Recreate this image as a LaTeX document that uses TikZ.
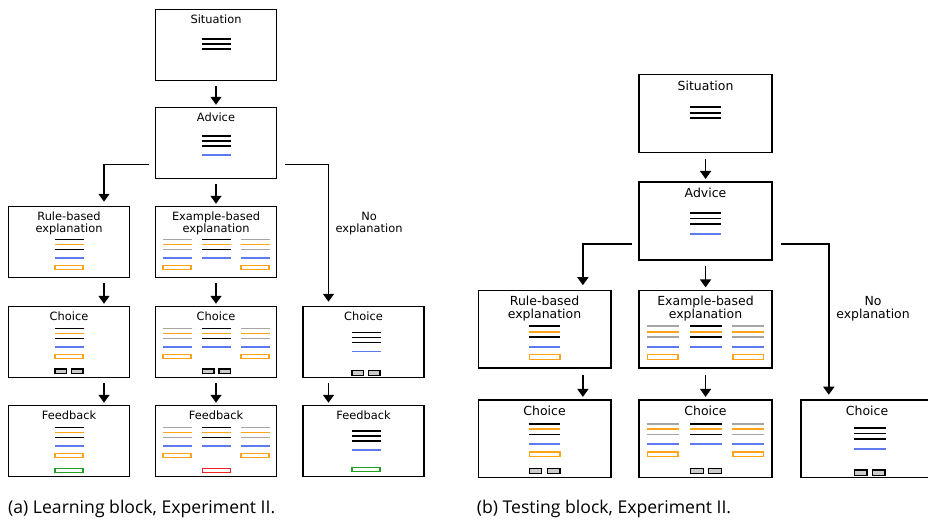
\documentclass[tikz,border=0pt]{standalone}
\usepackage{fontspec}
\setmainfont{DejaVu Sans}
\newfontfamily\capfont{Open Sans}
\usetikzlibrary{arrows.meta}
\definecolor{cOrange}{HTML}{FFA31A}
\definecolor{cGray}{HTML}{A5A5A5}
\definecolor{cBlue}{HTML}{5B7BEF}
\definecolor{cGreen}{HTML}{22A022}
\definecolor{cRed}{HTML}{EE2222}
\definecolor{cBtn}{HTML}{CBCBCB}
\tikzset{
  box/.style={draw, line width=1.6pt, minimum width=121pt, minimum height=71pt, inner sep=0pt, anchor=north},
  ttl/.style={font=\fontsize{11.4}{11.8}\selectfont, align=center, inner sep=0pt, anchor=north},
  arr/.style={line width=1.6pt, -{Triangle[width=11pt,length=8pt]}},
  bar/.style={line width=1.6pt},
  orect/.style={line width=1.4pt},
  btn/.style={line width=1.3pt, fill=cBtn},
  captxt/.style={font=\capfont\fontsize{17.6}{20}\selectfont, anchor=base west, inner sep=0pt},
}
\newcommand\mybar[3]{\draw[bar,#1] ({#2-14.5},{#3}) -- ({#2+14.5},{#3});}
\newcommand\myrect[3]{\draw[orect,#1] ({#2-14},{#3}) rectangle ({#2+14},{#3+4.2});}
\newcommand\mybtns[2]{\draw[btn] ({#1-14},{#2}) rectangle ({#1-2.5},{#2+4.8}) ({#1+2.5},{#2}) rectangle ({#1+14},{#2+4.8});}
\newcommand\mycol[4]{\mybar{#1}{#2}{#3}\mybar{cOrange}{#2}{#3+5}\mybar{#1}{#2}{#3+10}\mybar{cBlue}{#2}{#3+18.7}\ifnum#4=1 \myrect{cOrange}{#2}{#3+25.9}\fi}
\newcommand\myrule[2]{\mycol{black}{#1}{#2}{1}}
\newcommand\myex[2]{\mycol{cGray}{#1-39}{#2}{1}\mycol{black}{#1+0.5}{#2}{0}\mycol{cGray}{#1+39}{#2}{1}}
\newcommand\myplain[3]{\mybar{black}{#1}{#2}\mybar{black}{#1}{#2+5}\mybar{black}{#1}{#2+10}\ifnum#3=1 \mybar{cBlue}{#1}{#2+19}\fi}
\newcommand\drawflow[2]{%
  % Situation
  \node[box] (#1sit) at (216,8.75) {};
  \node[ttl] (#1sitt) at (216,14.8) {Situation};
  \myplain{216}{39.3}{0}
  % Advice
  \node[box] (#1adv) at (216,106.75) {};
  \node[ttl] (#1advt) at (216,112.8) {Advice};
  \myplain{216}{136}{1}
  % explanation row
  \node[box] (#1rul) at (69,205.75) {};
  \node[ttl] (#1rult) at (69,211.6) {Rule-based\\explanation};
  \myrule{69}{239.3}
  \node[box] (#1exa) at (216,205.75) {};
  \node[ttl] (#1exat) at (216,211.6) {Example-based\\explanation};
  \myex{216}{239.3}
  \node[ttl] (#1noexp) at (369,212) {No\\explanation};
  % choice row
  \node[box] (#1rch) at (69,305.75) {};
  \node[ttl] (#1rcht) at (69,311.8) {Choice};
  \myrule{69}{328.3}
  \mybtns{69}{369}
  \node[box] (#1ech) at (216,305.75) {};
  \node[ttl] (#1echt) at (216,311.8) {Choice};
  \myex{216}{328.3}
  \mybtns{216.5}{369}
  \node[box] (#1nch) at (363.5,305.75) {};
  \node[ttl] (#1ncht) at (363.5,311.8) {Choice};
  \myplain{366}{332.3}{1}
  \mybtns{366}{370.6}
  % connectors
  \draw[arr] ([yshift=-5pt]#1sit.south) -- ([yshift=2pt]#1adv.north);
  \draw[arr] ([xshift=-6pt,yshift=15pt]#1adv.south west) -| ([xshift=35pt,yshift=4pt]#1rul.north);
  \draw[arr] ([yshift=-5pt]#1adv.south) -- ([yshift=2pt]#1exa.north);
  \draw[arr] ([xshift=8pt,yshift=15pt]#1adv.south east) -| ([xshift=-35pt,yshift=4pt]#1nch.north);
  \draw[arr] ([xshift=35pt,yshift=-5pt]#1rul.south) -- ([xshift=35pt,yshift=2pt]#1rch.north);
  \draw[arr] ([yshift=-5pt]#1exa.south) -- ([yshift=2pt]#1ech.north);
  \ifnum#2=1
    \node[box] (#1rfb) at (69,404.75) {};
    \node[ttl] (#1rfbt) at (69,410.8) {Feedback};
    \myrule{69}{427.3}
    \myrect{cGreen}{69}{468.3}
    \node[box] (#1efb) at (216,404.75) {};
    \node[ttl] (#1efbt) at (216,410.8) {Feedback};
    \myex{216}{427.3}
    \myrect{cRed}{216.5}{468.3}
    \node[box] (#1nfb) at (363.5,404.75) {};
    \node[ttl] (#1nfbt) at (363.5,410.8) {Feedback};
    \myplain{366}{431}{1}
    \myrect{cGreen}{366}{467.3}
    \draw[arr] ([xshift=35pt,yshift=-5pt]#1rch.south) -- ([xshift=35pt,yshift=2pt]#1rfb.north);
    \draw[arr] ([yshift=-5pt]#1ech.south) -- ([yshift=2pt]#1efb.north);
    \draw[arr] ([xshift=-35pt,yshift=-5pt]#1nch.south) -- ([xshift=-35pt,yshift=2pt]#1nfb.north);
  \fi
}
\begin{document}
\begin{tikzpicture}[x=1pt,y=-1pt]
\useasboundingbox (0,0) rectangle (928,519);
\drawflow{L}{1}
\begin{scope}[shift={(469,64.24)}, scale=1.095, transform shape]
\drawflow{R}{0}
\end{scope}
\node[captxt] (capa) at (8,513) {(a) Learning block, Experiment II.};
\node[captxt] (capb) at (476.7,513) {(b) Testing block, Experiment II.};
\end{tikzpicture}
\end{document}
